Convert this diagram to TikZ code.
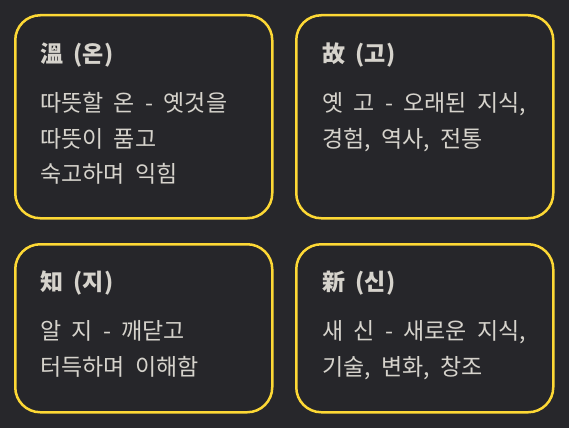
\documentclass[tikz,border=0pt]{standalone}
\usepackage{fontspec}
\setmainfont[WordSpace=2]{Noto Sans CJK KR}
\usetikzlibrary{positioning}

\definecolor{pagebg}{HTML}{27272B}
\definecolor{cardbg}{HTML}{26262A}
\definecolor{cardline}{HTML}{FDD835}
\definecolor{inktext}{HTML}{D6D3CC}

\tikzstyle{card} = [
        draw=cardline,
        fill=cardbg,
        line width=2.5pt,
        rounded corners=25pt,
        rectangle,
        minimum width=257pt,
        minimum height=203pt,
        anchor=north west
    ]
\tikzstyle{head} = [
        text=inktext,
        inner sep=0pt,
        anchor=west,
        font=\fontsize{23}{28}\selectfont\bfseries
    ]
\tikzstyle{body} = [
        text=inktext,
        inner sep=0pt,
        anchor=north west,
        align=left,
        font=\fontsize{23}{35.5}\selectfont
    ]

\begin{document}
\begin{tikzpicture}[x=1pt, y=-1pt]
        \fill[pagebg] (0,0) rectangle (569,428);
        \useasboundingbox (0,0) rectangle (569,428);
        % top row
        \node(onbox) [card] at (14,14) {};
        \node(gobox) [card] at (295,14) {};
        % bottom row
        \node(jibox) [card, minimum height=168pt] at (14,243) {};
        \node(sinbox) [card, minimum height=168pt] at (295,243) {};
        \node(onhead) [head] at (40,55) {溫 (온)};
        \node(gohead) [head] at (322,55) {故 (고)};
        \node(jihead) [head] at (40,283) {知 (지)};
        \node(sinhead) [head] at (322,283) {新 (신)};
        \node(ontext) [body] at (40,92.5) {따뜻할 온 - 옛것을\\따뜻이 품고\\숙고하며 익힘};
        \node(gotext) [body] at (322,92.5) {옛 고 - 오래된 지식,\\경험, 역사, 전통};
        \node(jitext) [body] at (40,320.5) {알 지 - 깨닫고\\터득하며 이해함};
        \node(sintext) [body] at (322,320.5) {새 신 - 새로운 지식,\\기술, 변화, 창조};
    \end{tikzpicture}
\end{document}
